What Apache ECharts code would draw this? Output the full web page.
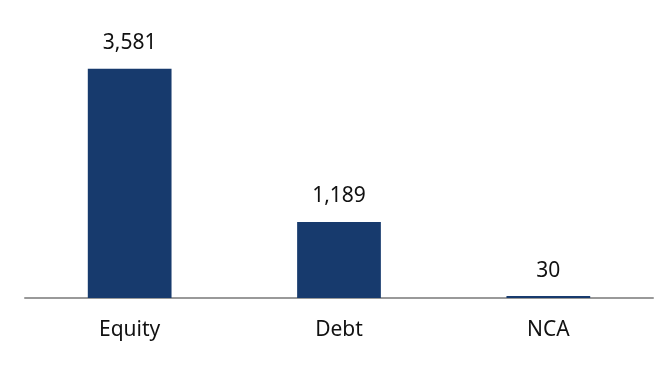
<!DOCTYPE html>
<html><head><meta charset="utf-8">
<script src="https://cdn.jsdelivr.net/npm/echarts@6/dist/echarts.min.js"></script>
<style>html,body{margin:0;padding:0;background:#fff}#c{width:664px;height:376px}</style>
</head><body><div id="c"></div>
<script>
const categories = ["Equity", "Debt", "NCA"];
const values = [3581, 1189, 30];

const chart = echarts.init(document.getElementById('c'), null, {renderer: 'canvas'});
chart.setOption({
  animation: false,
  grid: {left: 25, right: 11, top: 42, bottom: 78, containLabel: false},
  xAxis: {
    type: 'category', data: categories,
    axisLine: {lineStyle: {color: '#999999', width: 2}},
    axisTick: {show: false},
    axisLabel: {color: '#111', fontSize: 21, fontFamily: 'Noto Sans', margin: 22}
  },
  yAxis: {type: 'value', min: 0, max: 4000, show: false, splitLine: {show: false}},
  series: [{
    type: 'bar', data: values, barWidth: '40%',
    itemStyle: {color: '#173a6d'},
    label: {show: true, position: 'top', distance: 15, color: '#111', fontSize: 21, fontFamily: 'Noto Sans',
      formatter: p => p.value.toLocaleString('en-US')}
  }]
});
</script></body></html>
